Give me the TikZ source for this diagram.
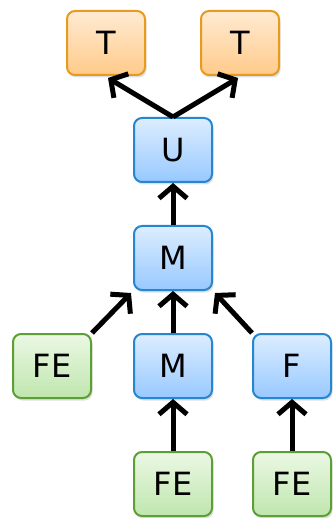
\documentclass[tikz,border=0pt]{standalone}
\usepackage{fontspec}
\setmainfont{DejaVu Sans}
\usepackage{tikz}
\usetikzlibrary{positioning}
\usetikzlibrary{arrows,arrows.meta}
\usetikzlibrary{calc}
\usetikzlibrary{shadows}
\definecolor{tline}{HTML}{E89A1E}
\definecolor{ttop}{HTML}{FFEBD2}
\definecolor{tbot}{HTML}{FFCB8A}
\definecolor{bline}{HTML}{2686CF}
\definecolor{btop}{HTML}{DCEDFF}
\definecolor{bbot}{HTML}{98C9FF}
\definecolor{gline}{HTML}{5E9E36}
\definecolor{gtop}{HTML}{EBF8E4}
\definecolor{gbot}{HTML}{BFE6AE}
\tikzstyle{box} = [rectangle, rounded corners=8pt, line width=2pt, minimum width=78pt, minimum height=64pt, inner sep=0pt, font=\fontsize{32}{36}\selectfont, drop shadow={opacity=0.25, shadow xshift=1.5pt, shadow yshift=-2.5pt}]
\tikzstyle{tbox} = [box, draw=tline, top color=ttop, bottom color=tbot]
\tikzstyle{bbox} = [box, draw=bline, top color=btop, bottom color=bbot]
\tikzstyle{gbox} = [box, draw=gline, top color=gtop, bottom color=gbot]
\tikzstyle{link} = [line width=5pt, -{Straight Barb[length=12pt,width=28pt,line width=5pt]}]
\begin{document}
\begin{tikzpicture}[x=1pt, y=1pt]

    \useasboundingbox (0,0) rectangle (333,-518);

    % top
    \node[tbox] (tl) at (106,-43) {T};
    \node[tbox] (tr) at (240,-43) {T};
    \node[bbox] (u)  at (173,-150) {U};

    % middle
    \node[bbox] (m)  at (173,-258) {M};
    \node[gbox] (fel) at (52,-366) {FE};
    \node[bbox] (mm) at (173,-366) {M};
    \node[bbox] (f)  at (292,-366) {F};

    % bottom
    \node[gbox] (feb) at (173,-484) {FE};
    \node[gbox] (fer) at (292,-484) {FE};

    \draw[link] (u.north) -- ($(tl.south)+(2,-2)$);
    \draw[link] (u.north) -- ($(tr.south)+(-2,-2)$);
    \draw[link] (m.north) -- (u.south);
    \draw[link] (mm.north) -- (m.south);
    \draw[link] (fel.north east) -- ($(m.south west)+(-2,-2)$);
    \draw[link] (f.north west) -- ($(m.south east)+(2,-2)$);
    \draw[link] (feb.north) -- (mm.south);
    \draw[link] (fer.north) -- (f.south);

\end{tikzpicture}
\end{document}
